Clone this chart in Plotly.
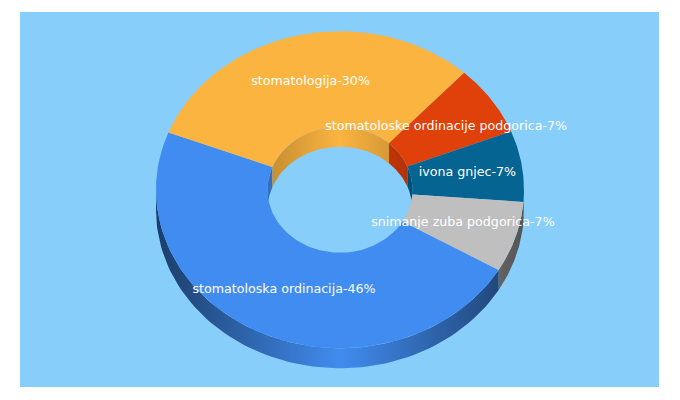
import numpy as np
import plotly.graph_objects as go

# данные диаграммы
labels = ["stomatoloska ordinacija", "stomatologija", "stomatoloske ordinacije podgorica",
          "ivona gnjec", "snimanje zuba podgorica"]
values = [46, 30, 7, 7, 7]
colors = ["#418cf0", "#fcb441", "#e0400a", "#056492", "#bfbfbf"]

# геометрия псевдо-3D кольца (пиксели страницы)
CX, CY = 340, 189.7
RX, RY = 184, 158.5
IN_RX, IN_RY = 72.5, 63
DEPTH = 20
START = 30.4


def shade(color, k):
    r, g, b = [int(color[i:i + 2], 16) for i in (1, 3, 5)]
    return f"rgb({int(r * k)},{int(g * k)},{int(b * k)})"


def arc(a0, a1, rx, ry, dy=0):
    t = np.radians(np.linspace(a0, a1, 80))
    return CX + rx * np.cos(t), CY + dy + ry * np.sin(t)


def poly(x, y, **kw):
    return go.Scatter(x=list(x), y=list(y), mode="lines", fill="toself",
                      line=dict(width=0), hoverinfo="skip", **kw)


def wall(a0, a1, rx, ry, color, dark):
    # стенка сектора, горизонтальный градиент: светлее к центру
    x0, y0 = arc(a0, a1, rx, ry)
    x1, y1 = arc(a1, a0, rx, ry, DEPTH)
    grad = dict(type="horizontal", start=CX - rx, stop=CX + rx,
                colorscale=[[0, shade(color, dark)], [0.5, shade(color, 1)], [1, shade(color, dark)]])
    return poly(np.r_[x0, x1], np.r_[y0, y1], fillgradient=grad)


total = sum(values)
spans = [v / total * 360 for v in values]
starts = [START + sum(spans[:i]) for i in range(len(spans))]

fig = go.Figure()

# внутренняя задняя стенка (180..360 градусов)
for a, s, c in zip(starts, spans, colors):
    for shift in (0, 360):
        a0, a1 = max(a + shift, 180), min(a + s + shift, 360)
        if a0 < a1:
            fig.add_trace(wall(a0, a1, IN_RX, IN_RY, c, 0.78))

# внешняя передняя стенка (0..180 градусов)
for a, s, c in zip(starts, spans, colors):
    for shift in (0, -360):
        a0, a1 = max(a + shift, 0), min(a + s + shift, 180)
        if a0 < a1:
            fig.add_trace(wall(a0, a1, RX, RY, c, 0.44))

# верхние грани
for a, s, c in zip(starts, spans, colors):
    x0, y0 = arc(a, a + s, RX, RY)
    x1, y1 = arc(a + s, a, IN_RX, IN_RY)
    fig.add_trace(poly(np.r_[x0, x1], np.r_[y0, y1], fillcolor=c))

# подписи по середине сектора
mid = np.radians([a + s / 2 for a, s in zip(starts, spans)])
fig.add_trace(go.Scatter(
    x=CX + 0.7 * RX * np.cos(mid),
    y=CY + 0.7 * RY * np.sin(mid),
    mode="text",
    text=[f"{n}-{v}%" for n, v in zip(labels, values)],
    textposition="middle center",
    textfont=dict(family="DejaVu Sans", size=12.65, color="white"),
    hoverinfo="skip",
))

fig.update_layout(
    width=680,
    height=400,
    showlegend=False,
    paper_bgcolor="white",
    plot_bgcolor="#87cefa",
    margin=dict(l=20, r=21, t=12, b=13),
    xaxis=dict(range=[20, 659], visible=False),
    yaxis=dict(range=[387, 12], visible=False),
)

# убираем отступ body, чтобы график лёг ровно в окно
fig.write_html("out.html", config=dict(displayModeBar=False),
               post_script="document.body.style.margin='0';")
